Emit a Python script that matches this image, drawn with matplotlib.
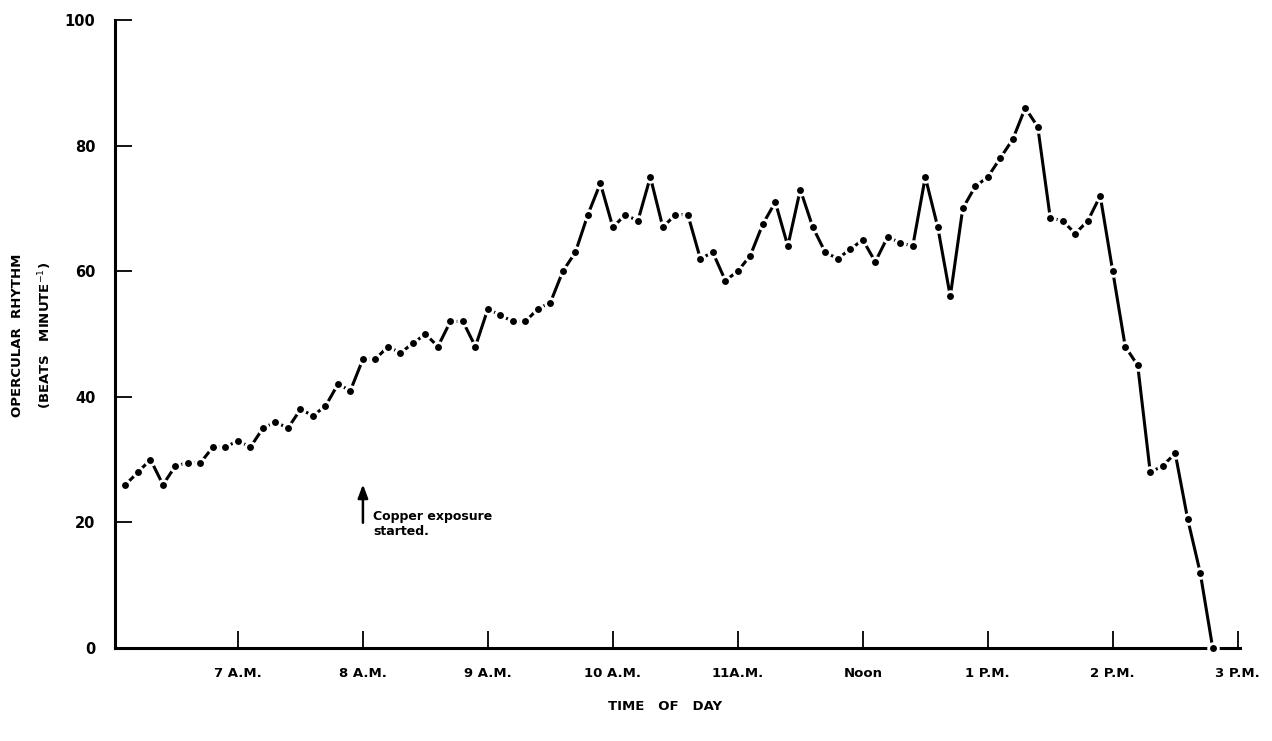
import matplotlib
matplotlib.use("Agg")
import matplotlib.pyplot as plt
import numpy as np

# Readings taken every 6 minutes from 6:06 A.M. (decimal hours)
start_hour = 6.1
step_hours = 0.1
rhythm = [26, 28, 30, 26, 29, 29.5, 29.5, 32, 32, 33,
          32, 35, 36, 35, 38, 37, 38.5, 42, 41, 46,
          46, 48, 47, 48.5, 50, 48, 52, 52, 48, 54,
          53, 52, 52, 54, 55, 60, 63, 69, 74, 67,
          69, 68, 75, 67, 69, 69, 62, 63, 58.5, 60,
          62.5, 67.5, 71, 64, 73, 67, 63, 62, 63.5, 65,
          61.5, 65.5, 64.5, 64, 75, 67, 56, 70, 73.5, 75,
          78, 81, 86, 83, 68.5, 68, 66, 68, 72, 60,
          48, 45, 28, 29, 31, 20.5, 12, 0]
times = start_hour + step_hours * np.arange(len(rhythm))

hour_ticks = [7, 8, 9, 10, 11, 12, 13, 14, 15]
hour_labels = ["7 A.M.", "8 A.M.", "9 A.M.", "10 A.M.", "11A.M.",
               "Noon", "1 P.M.", "2 P.M.", "3 P.M."]
y_ticks = [0, 20, 40, 60, 80, 100]

exposure_time = 8.0

plt.rcParams["font.family"] = ["DejaVu Sans"]

fig = plt.figure(figsize=(12.72, 7.41), dpi=100)
ax = fig.add_axes([0.0904, 0.1255, 0.975 - 0.0904, 0.973 - 0.1255])

ax.plot(times, rhythm, color="black", linewidth=2.2, solid_capstyle="butt",
        marker="o", markersize=7, markerfacecolor="black",
        markeredgecolor="white", markeredgewidth=2.0, zorder=3,
        clip_on=False)

ax.set_xlim(6.016, 15.02)
ax.set_ylim(0, 100)

for side in ("top", "right"):
    ax.spines[side].set_visible(False)
for side in ("left", "bottom"):
    ax.spines[side].set_linewidth(2.2)

ax.set_xticks(hour_ticks)
ax.set_xticklabels(hour_labels, fontsize=9.5, fontweight="bold")
ax.set_yticks(y_ticks)
ax.set_yticklabels([str(v) for v in y_ticks], fontsize=10.5, fontweight="bold")
ax.tick_params(axis="both", direction="in", length=12, width=1.3)
ax.tick_params(axis="x", pad=14)
ax.tick_params(axis="y", pad=14)

# Axis titles placed in figure coordinates
fig.text(665 / 1272, 1 - 706 / 741, "TIME   OF   DAY", fontsize=9.5,
         fontweight="bold", ha="center", va="center")
fig.text(18 / 1272, 1 - 335 / 741, "OPERCULAR  RHYTHM", fontsize=9.5,
         fontweight="bold", ha="center", va="center", rotation=90)
fig.text(45 / 1272, 1 - 335 / 741, "(BEATS   MINUTE$^{-1}$)", fontsize=9.5,
         fontweight="bold", ha="center", va="center", rotation=90)

ax.annotate("", xy=(exposure_time, 26.5), xytext=(exposure_time, 19.5),
            arrowprops=dict(arrowstyle="-|>,head_length=0.8,head_width=0.3",
                            color="black", lw=1.8))
ax.text(exposure_time + 0.08, 19.7, "Copper exposure\nstarted.", fontsize=9,
        fontweight="bold", va="center", ha="left", linespacing=1.2)

fig.savefig("out.png", dpi=100)
